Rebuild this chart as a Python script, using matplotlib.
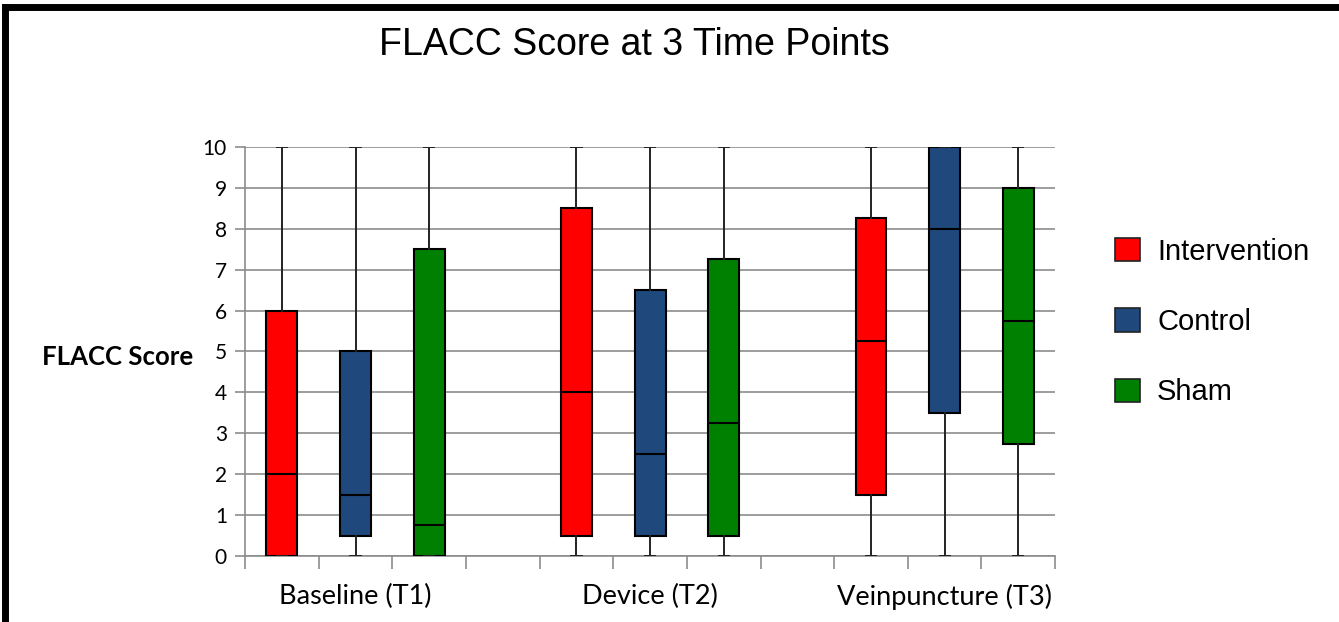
import numpy as np
import matplotlib
matplotlib.use("Agg")
import matplotlib.pyplot as plt
from matplotlib.patches import Patch
from matplotlib.lines import Line2D

# data
time_points = ['Baseline (T1)', 'Device (T2)', 'Veinpuncture (T3)']
groups = ['Intervention', 'Control', 'Sham']
colors = ['#ff0000', '#1f497d', '#008000']

q1 = [[0, 0.5, 0], [0.5, 0.5, 0.5], [1.5, 3.5, 2.75]]
med = [[2, 1.5, 0.75], [4, 2.5, 3.25], [5.25, 8, 5.75]]
q3 = [[6, 5, 7.5], [8.5, 6.5, 7.25], [8.25, 10, 9]]
whislo = [[0, 0, 0], [0, 0, 0], [0, 0, 0]]
whishi = [[10, 10, 10], [10, 10, 10], [10, 10, 10]]

fig = plt.figure(figsize=(13.39, 6.22), dpi=100)
ax = fig.add_axes([0.183, 0.106, 0.605, 0.658])

stats = []
positions = []
facecols = []
for t in range(3):
    for g in range(3):
        stats.append(dict(med=med[t][g], q1=q1[t][g], q3=q3[t][g],
                          whislo=whislo[t][g], whishi=whishi[t][g], fliers=[]))
        positions.append(t * 4 + g + 1)
        facecols.append(colors[g])

bp = ax.bxp(stats, positions=positions, widths=0.42, patch_artist=True,
            showfliers=False, capwidths=0.14,
            boxprops=dict(edgecolor='black', linewidth=1.5),
            medianprops=dict(color='black', linewidth=1.5),
            whiskerprops=dict(color='#222222', linewidth=1.4),
            capprops=dict(color='#222222', linewidth=1.4), zorder=3)
for b, c in zip(bp['boxes'], facecols):
    b.set_facecolor(c)

ax.set_xlim(0.5, 11.5)
ax.set_ylim(0, 10)
ax.set_yticks(range(0, 11))
ax.yaxis.grid(True, color='#8c8c8c', linewidth=1.2, zorder=0)
ax.set_axisbelow(True)
for s in ['top', 'right']:
    ax.spines[s].set_visible(False)
for s in ['left', 'bottom']:
    ax.spines[s].set_color('#8c8c8c')
    ax.spines[s].set_linewidth(1.2)

ax.set_xticks([2, 6, 10])
ax.set_xticklabels(time_points, fontsize=19.5, family='Lato')
ax.set_xticks(np.arange(0.5, 12, 1), minor=True)
ax.tick_params(axis='x', which='major', length=0, pad=20)
ax.tick_params(axis='x', which='minor', length=9, color='#8c8c8c', width=1.2)
ax.tick_params(axis='y', length=7, color='#8c8c8c', width=1.2, labelsize=15, pad=6)
for lab in ax.get_yticklabels():
    lab.set_family('Lato')

fig.text(0.474, 0.928, 'FLACC Score at 3 Time Points', ha='center', va='center',
         fontsize=27, family='Liberation Sans')
fig.text(0.031, 0.426, 'FLACC Score', ha='left', va='center', fontsize=18.5,
         fontweight='bold', family='Lato')

handles = [Patch(facecolor=c, edgecolor='#222222', linewidth=1.2) for c in colors]
fig.legend(handles, groups, loc='upper left', bbox_to_anchor=(0.813, 0.66),
           frameon=False, prop={'family': 'Liberation Sans', 'size': 21},
           handlelength=0.85, handleheight=0.85, labelspacing=1.45, handletextpad=0.6)

# thick frame lines at top and left of the slide
fig.add_artist(Line2D([0.004, 1.0], [0.988, 0.988], transform=fig.transFigure,
                      color='black', linewidth=5))
fig.add_artist(Line2D([0.004, 0.004], [0.0, 0.988], transform=fig.transFigure,
                      color='black', linewidth=5))

fig.savefig('out.png', dpi=100)
